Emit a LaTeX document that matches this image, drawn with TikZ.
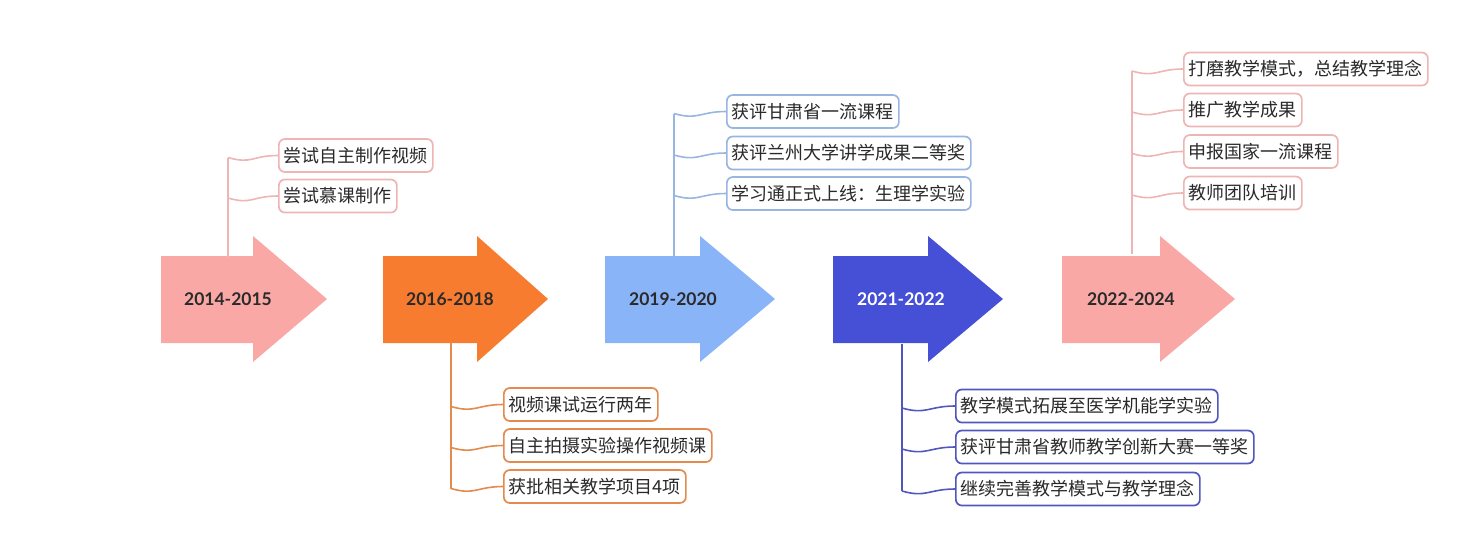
\documentclass[tikz,border=0pt]{standalone}
\usepackage{fontspec}
\usetikzlibrary{calc}
\newfontfamily\cjk{Noto Sans CJK SC}
\newfontfamily\yearfont{Lato}
\definecolor{pkA}{HTML}{F9A8A6}
\definecolor{pkB}{HTML}{EDB5B3}
\definecolor{orA}{HTML}{F77C30}
\definecolor{orB}{HTML}{E38B4E}
\definecolor{blA}{HTML}{8AB4F8}
\definecolor{blB}{HTML}{98B6E2}
\definecolor{inA}{HTML}{4650D6}
\definecolor{inB}{HTML}{5257BE}
\definecolor{txt}{HTML}{2A2A2A}
\newcommand\tlarrow[4]{%
  \fill[#4] (#1,256) -- (#2,256) -- (#2,236) -- (#3,299) -- (#2,362) -- (#2,343) -- (#1,343) -- cycle;}
\begin{document}
\begin{tikzpicture}[x=1pt,y=-1pt,
  yearlbl/.style={font=\yearfont\bfseries\fontsize{17.5}{20}\selectfont, text=#1, inner sep=0pt},
  item/.style={draw=#1, line width=1.7pt, rounded corners=6pt, fill=white, anchor=west,
    font=\cjk\fontsize{18}{20}\selectfont, text=txt, inner xsep=5pt, inner ysep=0pt,
    text height=15.5pt, text depth=2.5pt, minimum height=33pt},
  twig/.style={draw=#1, line width=1.6pt}]
\useasboundingbox (0,0) rectangle (1482,558);

% arrows
\tlarrow{161}{253}{327}{pkA}
\tlarrow{383}{477}{548}{orA}
\tlarrow{605}{700}{775}{blA}
\tlarrow{833}{928}{1003}{inA}
\tlarrow{1062}{1160}{1235}{pkA}

% year labels
\node[yearlbl=txt] (y1) at (228,299) {2014-2015};
\node[yearlbl=txt] (y2) at (450,299) {2016-2018};
\node[yearlbl=txt] (y3) at (673,299) {2019-2020};
\node[yearlbl=white] (y4) at (901,299) {2021-2022};
\node[yearlbl=txt] (y5) at (1131,299) {2022-2024};

% branch roots
\coordinate (b1) at (228,257);
\coordinate (b2) at (451,342);
\coordinate (b3) at (674,256);
\coordinate (b4) at (902,344);
\coordinate (b5) at (1132,254);

% items
\node[item=pkB] (i11) at (278,155.5) {尝试自主制作视频};
\node[item=pkB] (i12) at (278,196) {尝试慕课制作};

\node[item=orB] (i21) at (503,404.5) {视频课试运行两年};
\node[item=orB] (i22) at (503,445.5) {自主拍摄实验操作视频课};
\node[item=orB] (i23) at (503,486.5) {获批相关教学项目4项};

\node[item=blB] (i31) at (726,111.5) {获评甘肃省一流课程};
\node[item=blB] (i32) at (726,153) {获评兰州大学讲学成果二等奖};
\node[item=blB] (i33) at (726,193.5) {学习通正式上线：生理学实验};

\node[item=inB] (i41) at (955,406) {教学模式拓展至医学机能学实验};
\node[item=inB] (i42) at (955,447) {获评甘肃省教师教学创新大赛一等奖};
\node[item=inB] (i43) at (955,489) {继续完善教学模式与教学理念};

\node[item=pkB] (i51) at (1183,69) {打磨教学模式，总结教学理念};
\node[item=pkB] (i52) at (1183,110) {推广教学成果};
\node[item=pkB] (i53) at (1183,151.5) {申报国家一流课程};
\node[item=pkB] (i54) at (1183,193) {教师团队培训};

% trunks
\draw[twig=pkB] (b1) -- ($(b1 |- i11.west)+(0,2)$);
\draw[twig=orB] (b2) -- ($(b2 |- i23.west)+(0,2)$);
\draw[twig=blB] (b3) -- ($(b3 |- i31.west)+(0,2)$);
\draw[twig=inB] (b4) -- ($(b4 |- i43.west)+(0,2)$);
\draw[twig=pkB] (b5) -- ($(b5 |- i51.west)+(0,2)$);

% twigs
\foreach \b/\i/\c in {b1/i11/pkB, b1/i12/pkB, b2/i21/orB, b2/i22/orB, b2/i23/orB,
  b3/i31/blB, b3/i32/blB, b3/i33/blB, b4/i41/inB, b4/i42/inB, b4/i43/inB,
  b5/i51/pkB, b5/i52/pkB, b5/i53/pkB, b5/i54/pkB}
  \draw[twig=\c] ($(\b |- \i.west)+(0,2)$) .. controls +(24,7) and +(-26,0) .. (\i.west);

\end{tikzpicture}
\end{document}
